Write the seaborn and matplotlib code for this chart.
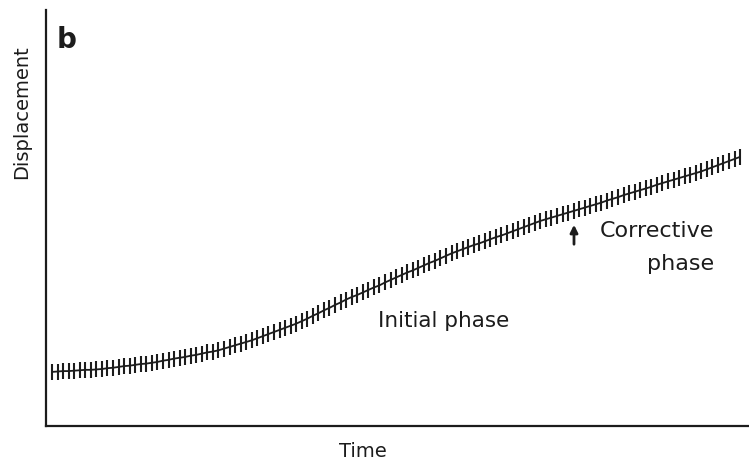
import matplotlib
matplotlib.use("Agg")
import matplotlib.pyplot as plt
import seaborn as sns
import pandas as pd

# Sampled trajectory: sample index (time) and hand-position displacement (arbitrary units)
displacement = [
    13.0, 13.1, 13.2, 13.2, 13.3, 13.4, 13.5, 13.5, 13.6, 13.7,
    13.9, 14.0, 14.2, 14.4, 14.5, 14.7, 14.9, 15.0, 15.2, 15.4,
    15.7, 15.9, 16.2, 16.4, 16.6, 16.9, 17.1, 17.4, 17.7, 17.9,
    18.2, 18.6, 19.0, 19.4, 19.8, 20.2, 20.6, 21.1, 21.6, 22.1,
    22.6, 23.1, 23.6, 24.1, 24.6, 25.2, 25.8, 26.5, 27.1, 27.8,
    28.4, 29.1, 29.7, 30.4, 31.0, 31.5, 32.1, 32.7, 33.3, 33.8,
    34.5, 35.1, 35.7, 36.3, 36.9, 37.4, 38.0, 38.6, 39.2, 39.7,
    40.3, 40.9, 41.5, 42.0, 42.5, 43.0, 43.5, 43.9, 44.4, 44.9,
    45.4, 45.8, 46.3, 46.8, 47.3, 47.8, 48.3, 48.8, 49.3, 49.7,
    50.1, 50.5, 50.9, 51.3, 51.7, 52.1, 52.5, 52.9, 53.3, 53.7,
    54.2, 54.6, 55.0, 55.5, 55.9, 56.3, 56.7, 57.1, 57.5, 58.0,
    58.4, 58.8, 59.2, 59.6, 60.0, 60.4, 60.8, 61.2, 61.7, 62.2,
    62.7, 63.2, 63.7, 64.2, 64.7,
]
time = list(range(len(displacement)))

panel_label = "b"
x_label = "Time"
y_label = "Displacement"
initial_label = "Initial phase"
corrective_label = "Corrective"
phase_label = "phase"

df = pd.DataFrame({"time": time, "displacement": displacement})

sns.set_style("white")
plt.rcParams["font.family"] = ["DejaVu Sans"]

W, H = 749, 461
ink = "#1c1c1c"
fig = plt.figure(figsize=(W / 100, H / 100), dpi=100)
ax = fig.add_axes([46 / W, 35 / H, 703 / W, 416 / H])

sns.lineplot(data=df, x="time", y="displacement", ax=ax, color=ink,
             linewidth=1.3, marker="|", markersize=11, markeredgewidth=1.5,
             markeredgecolor=ink)

ax.set_xlim(-1.08, 125.6)
ax.set_ylim(0, 100)
ax.set_xticks([])
ax.set_yticks([])
ax.set_xlabel("")
ax.set_ylabel("")
for side in ("top", "right"):
    ax.spines[side].set_visible(False)
for side in ("left", "bottom"):
    ax.spines[side].set_color(ink)
    ax.spines[side].set_linewidth(1.6)


def px(x, y):
    """Pixel position (from top-left) to figure fraction."""
    return x / W, 1 - y / H


fig.text(*px(363, 451), x_label, ha="center", va="center", fontsize=14, color=ink)
fig.text(*px(22, 112), y_label, ha="center", va="center", rotation=90,
         fontsize=14, color=ink)
fig.text(*px(67, 40), panel_label, ha="center", va="center", fontsize=20,
         fontweight="black", color=ink)
fig.text(*px(444, 321), initial_label, ha="center", va="center", fontsize=15.5,
         color=ink)
fig.text(*px(714, 231), corrective_label, ha="right", va="center", fontsize=16,
         color=ink)
fig.text(*px(714, 264), phase_label, ha="right", va="center", fontsize=16,
         color=ink)

# Arrow marking the onset of the corrective phase
ax.annotate("", xy=px(574, 222), xytext=px(574, 247), xycoords="figure fraction",
            arrowprops=dict(arrowstyle="-|>", color=ink, lw=2.0, mutation_scale=11))

fig.savefig("out.png", dpi=100, facecolor="white")
